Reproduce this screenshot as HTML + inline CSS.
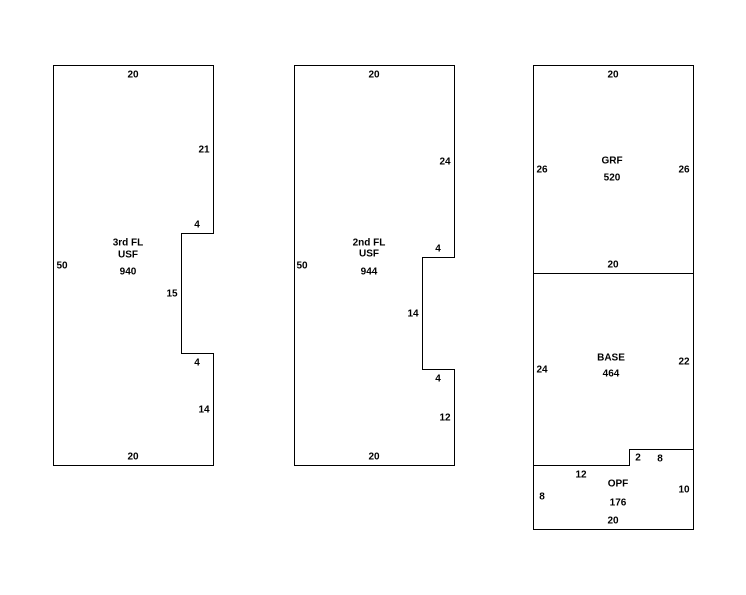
<!DOCTYPE html>
<html><head><meta charset="utf-8"><style>
html,body{margin:0;padding:0;background:#fff;width:746px;height:595px;overflow:hidden}
text{font-family:"Liberation Sans",Arial,sans-serif;font-size:10px;font-weight:bold;fill:#000;text-anchor:middle;dominant-baseline:central}
</style></head><body>
<svg width="746" height="595" viewBox="0 0 746 595" xmlns="http://www.w3.org/2000/svg">
<g fill="none" stroke="#000" stroke-width="1" shape-rendering="crispEdges">
<polygon points="53.5,65.5 213.5,65.5 213.5,233.5 181.5,233.5 181.5,353.5 213.5,353.5 213.5,465.5 53.5,465.5"/>
<polygon points="294.5,65.5 454.5,65.5 454.5,257.5 422.5,257.5 422.5,369.5 454.5,369.5 454.5,465.5 294.5,465.5"/>
<rect x="533.5" y="65.5" width="160" height="464"/>
<line x1="533" y1="273.5" x2="694" y2="273.5"/>
<polyline points="533.5,465.5 629.5,465.5 629.5,449.5 693.5,449.5"/>
</g>
<text x="133" y="75">20</text>
<text x="204" y="150">21</text>
<text x="197" y="225">4</text>
<text x="128" y="243">3rd FL</text>
<text x="128" y="255">USF</text>
<text x="128" y="272">940</text>
<text x="62" y="266">50</text>
<text x="172" y="294">15</text>
<text x="197" y="363">4</text>
<text x="204" y="410">14</text>
<text x="133" y="457">20</text>

<text x="374" y="75">20</text>
<text x="445" y="162">24</text>
<text x="438" y="249">4</text>
<text x="369" y="243">2nd FL</text>
<text x="369" y="254">USF</text>
<text x="369" y="272">944</text>
<text x="302" y="266">50</text>
<text x="413" y="314">14</text>
<text x="438" y="379">4</text>
<text x="445" y="418">12</text>
<text x="374" y="457">20</text>

<text x="613" y="75">20</text>
<text x="612" y="161">GRF</text>
<text x="612" y="178">520</text>
<text x="542" y="170">26</text>
<text x="684" y="170">26</text>
<text x="613" y="265">20</text>
<text x="611" y="358">BASE</text>
<text x="611" y="374">464</text>
<text x="542" y="370">24</text>
<text x="684" y="362">22</text>
<text x="638" y="458">2</text>
<text x="660" y="459">8</text>
<text x="581" y="475">12</text>
<text x="618" y="484">OPF</text>
<text x="618" y="503">176</text>
<text x="542" y="497">8</text>
<text x="684" y="490">10</text>
<text x="613" y="521">20</text>
</svg>
</body></html>
